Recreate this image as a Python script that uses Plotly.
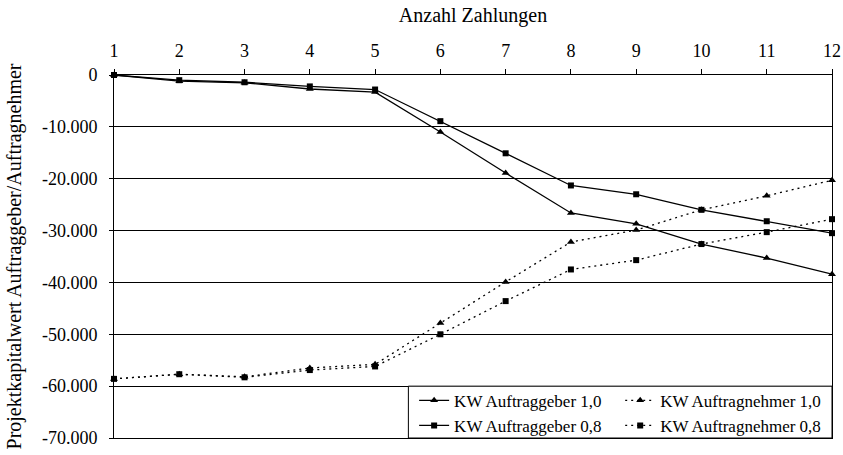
import plotly.graph_objects as go

# Number of payments (x) and project capital values (y)
zahlungen = [1, 2, 3, 4, 5, 6, 7, 8, 9, 10, 11, 12]
kw_ag_10 = [0, -1200, -1500, -2700, -3300, -11000, -18900, -26600, -28700, -32600, -35300, -38400]
kw_ag_08 = [0, -1000, -1400, -2200, -2800, -8900, -15100, -21300, -23000, -26000, -28200, -30500]
kw_an_10 = [-58600, -57700, -58200, -56500, -55800, -47800, -39900, -32200, -29900, -26000, -23300, -20300]
kw_an_08 = [-58600, -57700, -58300, -56900, -56200, -50000, -43600, -37500, -35700, -32600, -30300, -27800]

y_ticks = [0, -10000, -20000, -30000, -40000, -50000, -60000, -70000]
y_tick_text = ["0", "-10.000", "-20.000", "-30.000", "-40.000", "-50.000", "-60.000", "-70.000"]

FONT = "Times New Roman"
LINE_W = 1.3

fig = go.Figure()

def add(y, name, dash, symbol, size, legend):
    fig.add_trace(go.Scatter(
        x=zahlungen, y=y, name=name, mode="lines+markers",
        line=dict(color="black", width=LINE_W, dash=dash),
        marker=dict(symbol=symbol, size=size, color="black"),
        cliponaxis=False, legend=legend,
    ))

add(kw_ag_10, "KW Auftraggeber 1,0", "solid", "triangle-up", 7, "legend")
add(kw_ag_08, "KW Auftraggeber 0,8", "solid", "square", 6, "legend")
add(kw_an_10, "KW Auftragnehmer 1,0", "2px,4px", "triangle-up", 7, "legend2")
add(kw_an_08, "KW Auftragnehmer 0,8", "2px,4px", "square", 6, "legend2")

legend_style = dict(
    font=dict(family=FONT, size=17, color="black"),
    bgcolor="rgba(0,0,0,0)", borderwidth=0,
    orientation="v", yanchor="top", xanchor="left",
    tracegroupgap=0, itemwidth=30,
)

# frame behind the two legend columns
fig.add_shape(type="rect", xref="paper", yref="paper",
              x0=0.41, x1=1, y0=0, y1=1 / 7,
              line=dict(color="black", width=1), fillcolor="white", layer="above")

fig.update_layout(
    width=843, height=455,
    margin=dict(l=114, r=11, t=75, b=17, autoexpand=False),
    paper_bgcolor="white", plot_bgcolor="white",
    font=dict(family=FONT, size=18, color="black"),
    showlegend=True,
    legend=dict(x=0.418, y=0.152, **legend_style),
    legend2=dict(x=0.705, y=0.152, **legend_style),
    xaxis=dict(
        side="top", range=[1, 12], tickvals=zahlungen, automargin=False,
        title=dict(text="Anzahl Zahlungen", font=dict(family=FONT, size=20), standoff=12),
        showline=True, linecolor="black", linewidth=1, mirror=True,
        ticks="outside", ticklen=5, tickcolor="black", ticklabelstandoff=5,
        showgrid=False, zeroline=False,
        tickfont=dict(family=FONT, size=18),
    ),
    yaxis=dict(
        range=[-70000, 0], tickvals=y_ticks, ticktext=y_tick_text, automargin=False,
        title=dict(text="Projektkapitalwert Auftraggeber/Auftragnehmer",
                   font=dict(family=FONT, size=20), standoff=14),
        showline=True, linecolor="black", linewidth=1, mirror=True,
        ticks="outside", ticklen=4, tickcolor="black", ticklabelstandoff=8,
        showgrid=True, gridcolor="black", gridwidth=1, zeroline=False,
        tickfont=dict(family=FONT, size=18),
    ),
)

fig.write_html("out.html")
